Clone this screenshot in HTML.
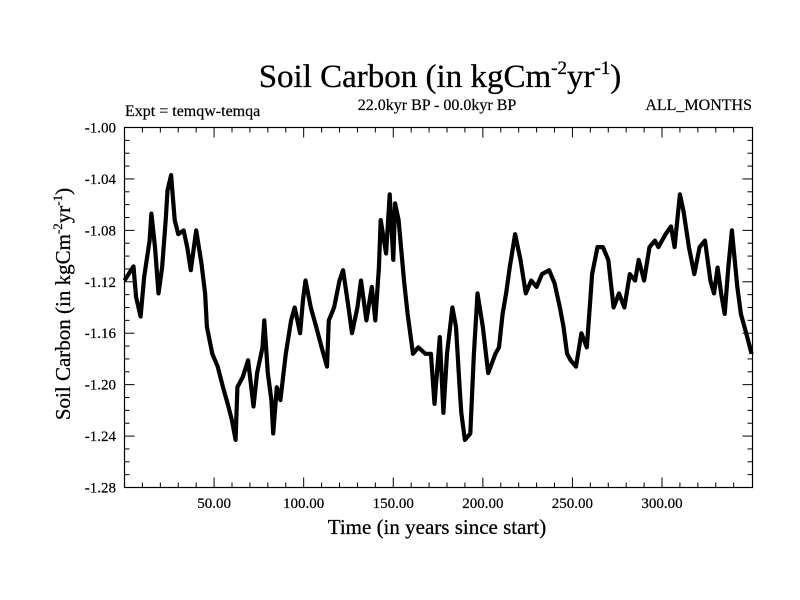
<!DOCTYPE html>
<html><head><meta charset="utf-8"><style>
body{margin:0;background:#fff;}
svg{display:block;font-family:"Liberation Serif",serif;}
</style></head><body>
<svg id="chart" width="800" height="600" viewBox="0 0 800 600">
<rect width="800" height="600" fill="#fff"/>
<text x="440" y="87" text-anchor="middle" font-size="33" stroke="#000" stroke-width="0.3">Soil Carbon (in kgCm<tspan dy="-13" font-size="19">-2</tspan><tspan dy="13">yr</tspan><tspan dy="-13" font-size="19">-1</tspan><tspan dy="13">)</tspan></text>
<text x="125" y="116" font-size="16" stroke="#000" stroke-width="0.2">Expt = temqw-temqa</text>
<text x="437" y="110" text-anchor="middle" font-size="16" stroke="#000" stroke-width="0.2">22.0kyr BP - 00.0kyr BP</text>
<text x="752" y="110" text-anchor="end" font-size="16" stroke="#000" stroke-width="0.2">ALL_MONTHS</text>
<g id="axes"></g>
<path id="series" fill="none" stroke="#000" stroke-width="4.2" stroke-linejoin="round"/>
<rect x="124.5" y="127.5" width="628" height="360" fill="none" stroke="#000" stroke-width="1.2"/>
<text x="437" y="534" text-anchor="middle" font-size="21" stroke="#000" stroke-width="0.25">Time (in years since start)</text>
<text transform="translate(70,304) rotate(-90)" text-anchor="middle" font-size="21" stroke="#000" stroke-width="0.25">Soil Carbon (in kgCm<tspan dy="-8" font-size="13">-2</tspan><tspan dy="8">yr</tspan><tspan dy="-8" font-size="13">-1</tspan><tspan dy="8">)</tspan></text>
</svg>
<script>
const years=[0,5,6.5,9,11,14,15,17,19,21,23,24,26,28,30,33,35,37,40,43,45,46,49,52,55,58,60,62,63,66,69,72,74,77,78,80,82,83,85,87,90,93,95,98,99.6,101,104,107,110,113,114,117,120,122,125,127,130,132,135,138,140,142,143,146,148,150,151,153,156,158,161,164,168,171,173,176,178,180,183,185,187,188,190,193,195,197,200,203,207,209,211,213,215,218,221,224,227,230,233,237,240,243,245,247,249,252,255,258,260,261,264,267,270,273,276,279,282,285,287,290,293,296,298,302,305,307,310,312,315,318,321,324,327,329,331,333,335,337,339,342,344,347,350];
const values=[-1.119,-1.108,-1.132,-1.147,-1.116,-1.088,-1.067,-1.093,-1.129,-1.109,-1.072,-1.049,-1.037,-1.072,-1.083,-1.080,-1.093,-1.111,-1.080,-1.106,-1.129,-1.155,-1.176,-1.186,-1.202,-1.217,-1.228,-1.243,-1.202,-1.194,-1.181,-1.217,-1.191,-1.171,-1.150,-1.191,-1.212,-1.238,-1.202,-1.212,-1.176,-1.150,-1.140,-1.160,-1.134,-1.119,-1.140,-1.155,-1.171,-1.186,-1.150,-1.140,-1.119,-1.111,-1.140,-1.160,-1.140,-1.119,-1.150,-1.124,-1.150,-1.109,-1.072,-1.098,-1.052,-1.103,-1.059,-1.072,-1.119,-1.145,-1.176,-1.171,-1.176,-1.176,-1.215,-1.163,-1.222,-1.176,-1.140,-1.155,-1.202,-1.222,-1.243,-1.238,-1.176,-1.129,-1.155,-1.191,-1.176,-1.171,-1.145,-1.129,-1.109,-1.083,-1.103,-1.129,-1.119,-1.124,-1.114,-1.111,-1.121,-1.140,-1.155,-1.176,-1.181,-1.186,-1.160,-1.171,-1.134,-1.114,-1.093,-1.093,-1.103,-1.140,-1.129,-1.140,-1.114,-1.119,-1.103,-1.119,-1.093,-1.088,-1.093,-1.083,-1.077,-1.093,-1.052,-1.065,-1.093,-1.114,-1.093,-1.088,-1.119,-1.129,-1.109,-1.129,-1.145,-1.109,-1.080,-1.124,-1.145,-1.160,-1.176,-1.155,-1.155];
const yTicks=[-1.00,-1.04,-1.08,-1.12,-1.16,-1.20,-1.24,-1.28];
const xTicks=[50,100,150,200,250,300];
const X0=124.5,X1=752.5,Y0=127.5,Y1=487.5,XMIN=0,XMAX=350.5,YMIN=-1.28,YMAX=-1.00;
const sx=v=>X0+(v-XMIN)/(XMAX-XMIN)*(X1-X0);
const sy=v=>Y1-(v-YMIN)/(YMAX-YMIN)*(Y1-Y0);
const NS="http://www.w3.org/2000/svg";
const axes=document.getElementById('axes');
function ln(x1,y1,x2,y2,name){const l=document.createElementNS(NS,'line');
l.setAttribute('x1',x1);l.setAttribute('y1',y1);l.setAttribute('x2',x2);l.setAttribute('y2',y2);
l.setAttribute('stroke','#000');l.setAttribute('stroke-width','1');


axes.appendChild(l);}
for(let i=0;i<=28;i++){const v=-1.28+i*0.01;const y=sy(v);const major=i%4===0;const len=major?10:5;
ln(X0,y,X0+len,y,'y-tick');ln(X1,y,X1-len,y,'y-tick-right');}
for(let t=10;t<350;t+=10){const x=sx(t);const major=t%50===0;const len=major?10:5;
ln(x,Y1,x,Y1-len,'x-tick');ln(x,Y0,x,Y0+len,'x-tick-top');}
yTicks.forEach(v=>{const t=document.createElementNS(NS,'text');
t.setAttribute('x',116);t.setAttribute('y',sy(v)+5);t.setAttribute('text-anchor','end');t.setAttribute('font-size','15');
t.setAttribute('stroke','#000');t.setAttribute('stroke-width','0.2');
t.textContent=v.toFixed(2);


axes.appendChild(t);});
xTicks.forEach(v=>{const t=document.createElementNS(NS,'text');
t.setAttribute('x',sx(v));t.setAttribute('y',508);t.setAttribute('text-anchor','middle');t.setAttribute('font-size','15');
t.setAttribute('stroke','#000');t.setAttribute('stroke-width','0.2');
t.textContent=v.toFixed(2);


axes.appendChild(t);});
document.getElementById('series').setAttribute('d',years.map((yr,i)=>(i?'L':'M')+sx(yr).toFixed(1)+','+sy(values[i]).toFixed(1)).join(''));
</script>
</body></html>
